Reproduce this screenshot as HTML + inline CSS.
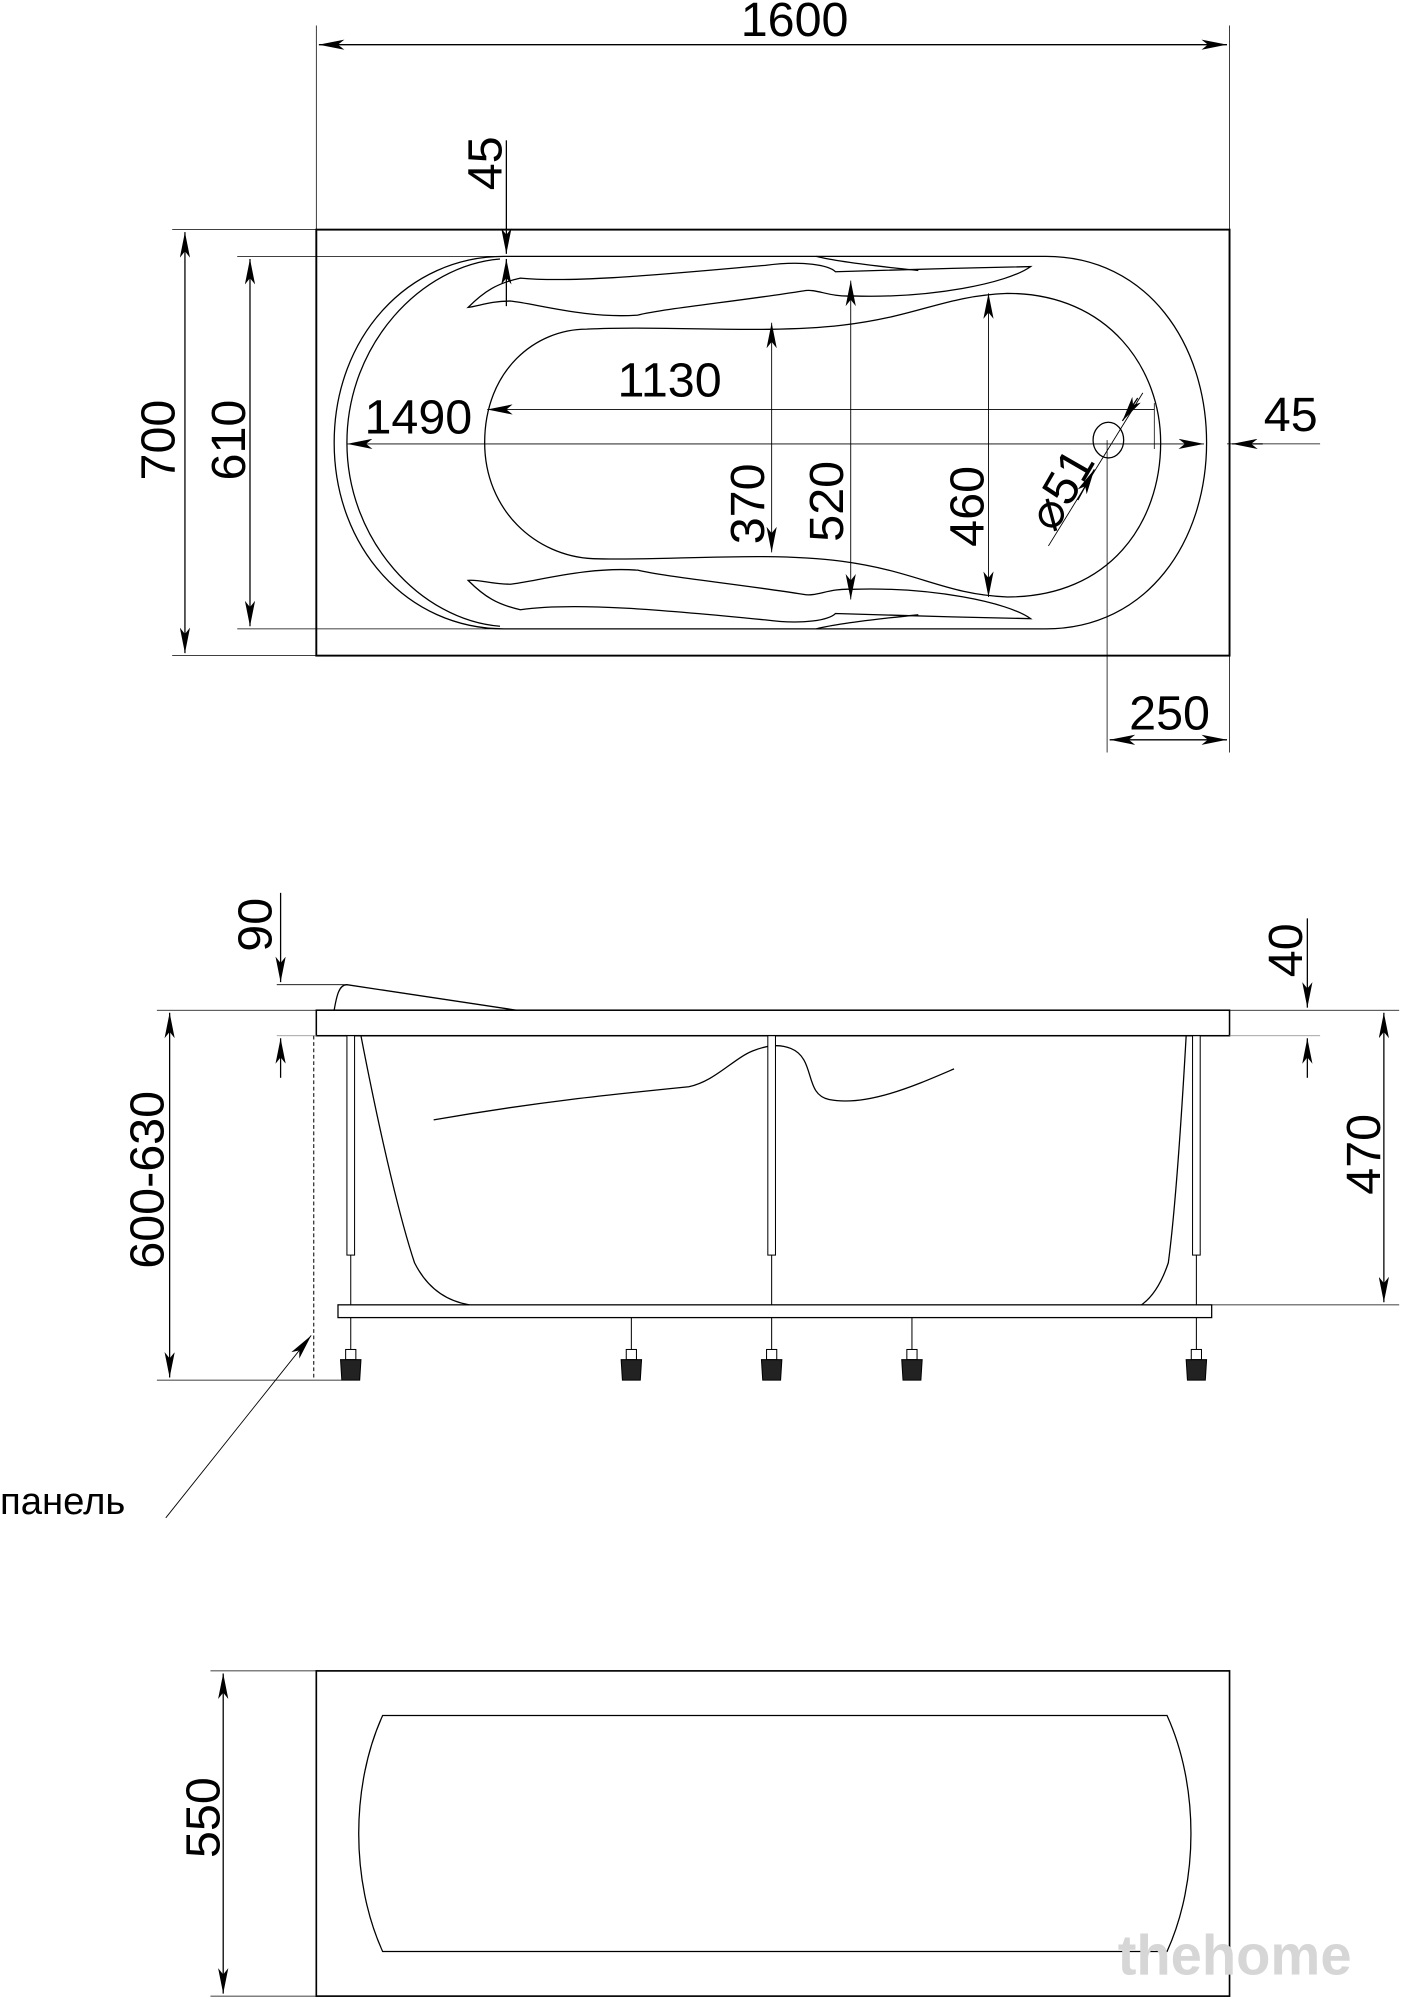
<!DOCTYPE html>
<html><head><meta charset="utf-8"><style>
html,body{margin:0;padding:0;background:#fff;}
svg{display:block;}
text{font-family:"Liberation Sans","DejaVu Sans",sans-serif;fill:#000;}
</style></head><body>
<svg width="1403" height="2000" viewBox="0 0 1100 1568" xmlns="http://www.w3.org/2000/svg">
<defs>
<marker id="a" viewBox="0 0 20 8" refX="20" refY="4" markerWidth="20" markerHeight="8" markerUnits="userSpaceOnUse" orient="auto-start-reverse"><path d="M0,0 L20,4 L0,8 L5,4 Z" fill="#000"/></marker>
<g id="ft" stroke="#000" stroke-width="0.8"><line x1="0" y1="1033" x2="0" y2="1058"/><rect x="-4" y="1058" width="8" height="8" fill="#fff"/><path d="M-8,1066 L8,1066 L7,1082 L-7,1082 Z" fill="#222"/></g>
</defs>
<g fill="none" stroke="#000" stroke-width="1">
<!-- TOP VIEW -->
<rect x="248" y="180" width="716" height="334" stroke-width="1.5"/>
<line x1="248" y1="20" x2="248" y2="180" stroke-width="0.6"/>
<line x1="964" y1="20" x2="964" y2="180" stroke-width="0.6"/>
<line x1="250" y1="35" x2="962" y2="35" marker-start="url(#a)" marker-end="url(#a)"/>
<line x1="135" y1="180" x2="248" y2="180" stroke-width="0.6"/>
<line x1="135" y1="514" x2="248" y2="514" stroke-width="0.6"/>
<line x1="145" y1="182" x2="145" y2="512" marker-start="url(#a)" marker-end="url(#a)"/>
<line x1="186" y1="201" x2="395" y2="201" stroke-width="0.6"/>
<line x1="186" y1="493" x2="395" y2="493" stroke-width="0.6"/>
<line x1="196" y1="203" x2="196" y2="491" marker-start="url(#a)" marker-end="url(#a)"/>
<path d="M395,201 L820,201 C900,201 946,270 946,347 C946,424 900,493 820,493 L395,493 C320,493 262,430 262,347 C262,264 320,201 395,201 Z"/>
<path d="M392,203 C330,208 272,270 272,347 C272,424 330,486 392,491"/>
<path d="M460,258 C520,255 600,262 660,255 C720,248 740,232 790,230 C870,230 910,290 910,347 C910,410 870,468 790,468 C740,466 720,448 660,440 C600,432 520,440 465,438 C420,436 380,400 380,347 C380,290 420,258 460,258 Z"/>
<path d="M367,241 C380,228 390,222 408,218 C450,222 520,215 600,208 C630,204 650,208 655,213 C680,212 760,210 808,209 C790,222 730,234 668,232 C650,233 640,226 630,228 C580,236 520,242 500,247 C460,250 420,238 400,236 C385,236 375,240 367,241 Z"/>
<path d="M640,201 C660,206 700,210 720,212"/>
<path d="M367,455 C380,468 390,474 408,478 C450,472 520,478 600,486 C630,490 650,486 655,481 C680,482 760,484 808,485 C790,472 730,460 668,462 C650,461 640,468 630,466 C580,458 520,452 500,447 C460,444 420,456 400,458 C385,458 375,454 367,455 Z"/>
<path d="M640,493 C660,488 700,484 720,482"/>
<line x1="382" y1="321" x2="905" y2="321" stroke-width="0.7" marker-start="url(#a)"/>
<line x1="272" y1="348" x2="944" y2="348" stroke-width="0.7" marker-start="url(#a)" marker-end="url(#a)"/>
<line x1="962" y1="348" x2="1035" y2="348" stroke-width="0.6"/>
<line x1="990" y1="348" x2="966" y2="348" marker-end="url(#a)"/>
<line x1="905" y1="316" x2="905" y2="352" stroke-width="0.6"/>
<line x1="605" y1="253" x2="605" y2="433" stroke-width="0.7" marker-start="url(#a)" marker-end="url(#a)"/>
<line x1="667" y1="220" x2="667" y2="470" stroke-width="0.7" marker-start="url(#a)" marker-end="url(#a)"/>
<line x1="775" y1="230" x2="775" y2="468" stroke-width="0.7" marker-start="url(#a)" marker-end="url(#a)"/>
<line x1="397" y1="110" x2="397" y2="199" marker-end="url(#a)"/>
<line x1="397" y1="240" x2="397" y2="203" marker-end="url(#a)"/>
<ellipse cx="869" cy="345" rx="12" ry="14"/>
<line x1="822" y1="428" x2="896" y2="308" stroke-width="0.7"/>
<line x1="845" y1="392" x2="858" y2="368" marker-end="url(#a)"/>
<line x1="880" y1="330" x2="892" y2="312" marker-start="url(#a)"/>
<line x1="868" y1="345" x2="868" y2="590" stroke-width="0.6"/>
<line x1="964" y1="514" x2="964" y2="590" stroke-width="0.6"/>
<line x1="870" y1="580" x2="962" y2="580" marker-start="url(#a)" marker-end="url(#a)"/>
<!-- SIDE VIEW -->
<rect x="248" y="792" width="716" height="20" stroke-width="1.2"/>
<path d="M262,792 C264,780 266,772 272,772 L405,792"/>
<line x1="217" y1="772" x2="272" y2="772" stroke-width="0.6"/>
<line x1="217" y1="812" x2="248" y2="812" stroke="#888" stroke-width="0.6"/>
<line x1="220" y1="700" x2="220" y2="770" marker-end="url(#a)"/>
<line x1="220" y1="845" x2="220" y2="814" marker-end="url(#a)"/>
<line x1="964" y1="812" x2="1035" y2="812" stroke="#888" stroke-width="0.6"/>
<line x1="1025" y1="720" x2="1025" y2="790" marker-end="url(#a)"/>
<line x1="1025" y1="845" x2="1025" y2="814" marker-end="url(#a)"/>
<line x1="964" y1="792" x2="1097" y2="792" stroke-width="0.6"/>
<line x1="950" y1="1023" x2="1097" y2="1023" stroke-width="0.6"/>
<line x1="1085" y1="794" x2="1085" y2="1021" marker-start="url(#a)" marker-end="url(#a)"/>
<line x1="123" y1="792" x2="248" y2="792" stroke-width="0.6"/>
<line x1="123" y1="1082" x2="272" y2="1082" stroke-width="0.6"/>
<line x1="133" y1="794" x2="133" y2="1080" marker-start="url(#a)" marker-end="url(#a)"/>
<path d="M283,812 C300,900 315,960 325,990 C335,1010 350,1020 368,1023"/>
<path d="M930,812 C925,900 920,960 916,990 C910,1008 902,1018 895,1023"/>
<path d="M340,878 C420,864 480,858 540,852 C560,848 575,830 590,824 C600,820 610,818 620,822 C640,830 630,858 650,862 C680,868 720,850 748,838"/>
<rect x="265" y="1023" width="685" height="10"/>
<line x1="246" y1="812" x2="246" y2="1082" stroke-dasharray="3,2" stroke-width="0.8"/>
<line x1="130" y1="1190" x2="244" y2="1047" stroke-width="0.7" marker-end="url(#a)"/>
</g>
<g fill="#fff" stroke="#000" stroke-width="0.8">
<rect x="272" y="812" width="6" height="172"/><rect x="602" y="812" width="6" height="172"/><rect x="935" y="812" width="6" height="172"/>
<line x1="275" y1="984" x2="275" y2="1023"/><line x1="605" y1="984" x2="605" y2="1023"/><line x1="938" y1="984" x2="938" y2="1023"/>
</g>
<use href="#ft" x="275"/><use href="#ft" x="495"/><use href="#ft" x="605"/><use href="#ft" x="715"/><use href="#ft" x="938"/>
<!-- BOTTOM VIEW -->
<g fill="none" stroke="#000">
<rect x="248" y="1310" width="716" height="255" stroke-width="1.3"/>
<path d="M300,1345 L915,1345 C940,1400 940,1475 915,1530 L300,1530 C275,1475 275,1400 300,1345 Z"/>
<line x1="165" y1="1310" x2="248" y2="1310" stroke-width="0.6"/>
<line x1="165" y1="1565" x2="248" y2="1565" stroke-width="0.6"/>
<line x1="175" y1="1312" x2="175" y2="1563" marker-start="url(#a)" marker-end="url(#a)"/>
</g>
<g font-size="38">
<text x="623" y="28" text-anchor="middle">1600</text>
<text transform="translate(137,345) rotate(-90)" text-anchor="middle">700</text>
<text transform="translate(192,345) rotate(-90)" text-anchor="middle">610</text>
<text transform="translate(393,128) rotate(-90)" text-anchor="middle">45</text>
<text x="525" y="311" text-anchor="middle">1130</text>
<text x="328" y="340" text-anchor="middle">1490</text>
<text x="1012" y="338" text-anchor="middle">45</text>
<text transform="translate(599,395) rotate(-90)" text-anchor="middle">370</text>
<text transform="translate(661,393) rotate(-90)" text-anchor="middle">520</text>
<text transform="translate(771,397) rotate(-90)" text-anchor="middle">460</text>
<text transform="translate(843,390) rotate(-60)" text-anchor="middle">⌀51</text>
<text x="917" y="572" text-anchor="middle">250</text>
<text transform="translate(213,725) rotate(-90)" text-anchor="middle">90</text>
<text transform="translate(1021,745) rotate(-90)" text-anchor="middle">40</text>
<text transform="translate(1082,905) rotate(-90)" text-anchor="middle">470</text>
<text transform="translate(128,925) rotate(-90)" text-anchor="middle">600-630</text>
<text transform="translate(172,1425) rotate(-90)" text-anchor="middle">550</text>
</g>
<text x="0" y="1187" font-size="30">панель</text>
<text x="968" y="1548" font-size="44" font-weight="bold" style="fill:#d6d6d6" text-anchor="middle">thehome</text>
</svg>
</body></html>
